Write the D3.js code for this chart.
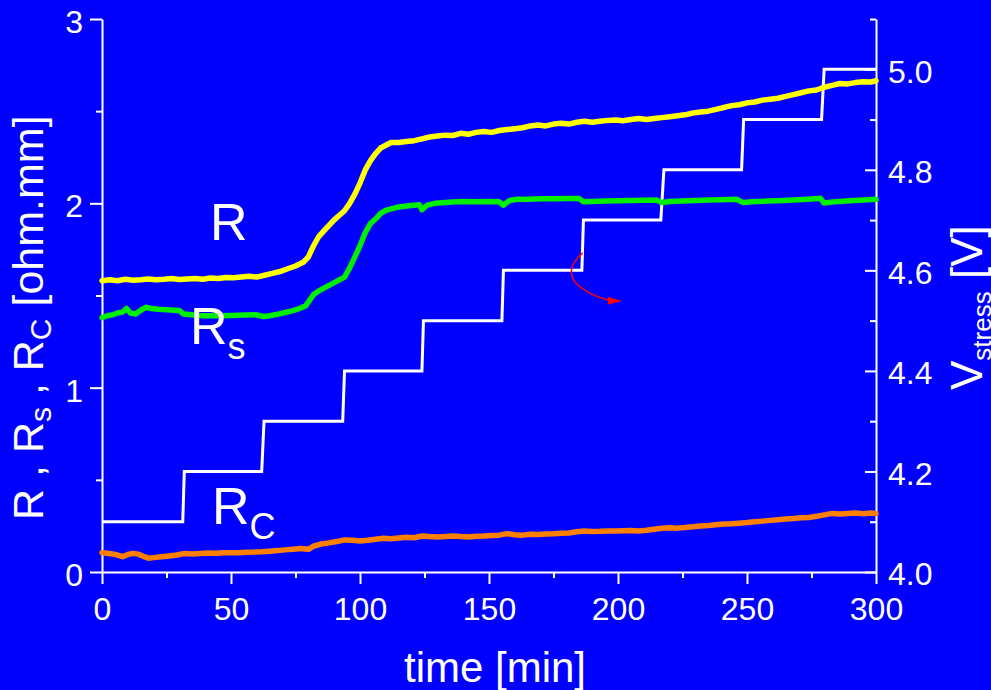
<!DOCTYPE html>
<html>
<head>
<meta charset="utf-8">
<script src="https://cdn.jsdelivr.net/npm/d3@7"></script>
<style>
  html, body { margin: 0; padding: 0; background: #0000ff; overflow: hidden; }
  text { font-family: "Liberation Sans", Arial, Helvetica, sans-serif; fill: #ffffff; }
</style>
</head>
<body>
<svg id="chart" width="991" height="690"></svg>
<script>
// ---- data -------------------------------------------------------------
const timeMajorTicks = [0, 50, 100, 150, 200, 250, 300];
const timeMinorTicks = [25, 75, 125, 175, 225, 275];
const resMajorTicks = [0, 1, 2, 3];
const resMinorTicks = [0.5, 1.5, 2.5];
const voltMajorTicks = [4.0, 4.2, 4.4, 4.6, 4.8, 5.0];
const voltMinorTicks = [4.1, 4.3, 4.5, 4.7, 4.9, 5.1];

// total resistance R [ohm.mm] vs time [min]
const seriesR = [
  [0,1.580],[3,1.585],[6,1.580],[9,1.588],[12,1.583],[15,1.586],[18,1.590],[21,1.585],
  [24,1.588],[27,1.592],[30,1.587],[33,1.590],[36,1.592],[39,1.588],[42,1.595],[45,1.592],
  [48,1.598],[51,1.596],[54,1.600],[57,1.604],[60,1.600],[63,1.610],[66,1.620],[69,1.630],
  [72,1.645],[75,1.660],[78,1.680],[80,1.710],[82,1.770],[84,1.820],[86,1.850],[88,1.880],
  [90,1.910],[92,1.935],[94,1.960],[96,2.000],[98,2.050],[100,2.110],[102,2.180],[104,2.230],
  [106,2.270],[108,2.300],[110,2.315],[112,2.330],[115,2.330],[118,2.335],[121,2.340],[124,2.350],
  [127,2.360],[130,2.365],[133,2.370],[136,2.368],[139,2.380],[142,2.375],[145,2.385],[148,2.390],
  [151,2.385],[154,2.395],[157,2.400],[160,2.405],[163,2.410],[166,2.420],[169,2.425],[172,2.420],
  [175,2.430],[178,2.435],[181,2.430],[184,2.440],[187,2.445],[190,2.440],[193,2.445],[196,2.450],
  [199,2.452],[202,2.448],[205,2.455],[208,2.460],[211,2.455],[214,2.460],[217,2.465],[220,2.470],
  [223,2.475],[226,2.480],[229,2.490],[232,2.495],[235,2.500],[238,2.510],[241,2.520],[244,2.530],
  [247,2.535],[250,2.545],[253,2.550],[256,2.560],[259,2.565],[262,2.570],[265,2.580],[268,2.590],
  [271,2.600],[274,2.610],[277,2.615],[280,2.630],[283,2.640],[286,2.650],[289,2.648],[292,2.655],
  [295,2.660],[298,2.658],[300,2.665]
];

// sheet resistance Rs
const seriesRs = [
  [0,1.380],[2,1.390],[4,1.395],[6,1.405],[8,1.410],[9.5,1.430],[11,1.405],[13,1.400],
  [15,1.420],[17,1.436],[19,1.430],[22,1.425],[25,1.423],[28,1.420],[30,1.418],[31.5,1.400],
  [34,1.397],[37,1.392],[40,1.390],[45,1.390],[50,1.392],[55,1.394],[60,1.395],[62.5,1.386],
  [65,1.390],[68,1.398],[71,1.408],[74,1.418],[77,1.432],[79,1.445],[80.5,1.475],[82,1.505],
  [84,1.525],[86,1.540],[88,1.555],[90,1.570],[92,1.585],[94,1.600],[96,1.650],[98,1.710],
  [100,1.770],[102,1.840],[104,1.890],[106,1.915],[108,1.945],[110,1.962],[112,1.970],[115,1.980],
  [118,1.985],[121,1.990],[123,1.993],[124,1.965],[126,1.990],[129,2.000],[133,2.005],[137,2.008],
  [141,2.010],[145,2.008],[150,2.010],[154,2.008],[155.5,1.990],[158,2.015],[161,2.022],[165,2.022],
  [170,2.025],[175,2.025],[180,2.026],[185,2.026],[186.5,2.009],[190,2.010],[195,2.012],[200,2.014],
  [205,2.015],[210,2.017],[215,2.018],[217,2.004],[220,2.010],[225,2.013],[230,2.016],[235,2.018],
  [240,2.020],[246,2.022],[248.5,2.004],[252,2.008],[258,2.012],[264,2.016],[270,2.020],[275,2.024],
  [278.5,2.027],[279.8,2.002],[284,2.008],[290,2.014],[295,2.018],[300,2.022]
];

// contact resistance Rc
const seriesRc = [
  [0,0.105],[2,0.102],[4,0.098],[6,0.092],[8,0.083],[10,0.095],[12,0.101],[14,0.097],
  [16,0.085],[18,0.075],[20,0.078],[23,0.083],[26,0.087],[29,0.092],[32,0.100],[35,0.098],
  [38,0.101],[41,0.103],[44,0.102],[47,0.104],[50,0.105],[53,0.104],[56,0.107],[59,0.108],
  [62,0.110],[65,0.113],[68,0.116],[71,0.120],[74,0.124],[77,0.128],[80,0.123],[82,0.140],
  [85,0.152],[88,0.158],[91,0.165],[94,0.174],[97,0.172],[100,0.168],[103,0.172],[106,0.178],
  [109,0.183],[112,0.180],[115,0.185],[118,0.188],[121,0.186],[124,0.195],[127,0.192],[130,0.190],
  [133,0.193],[136,0.195],[139,0.192],[142,0.190],[145,0.194],[148,0.195],[151,0.198],[154,0.200],
  [157,0.208],[160,0.202],[163,0.200],[166,0.205],[169,0.204],[172,0.206],[175,0.207],[178,0.210],
  [181,0.212],[184,0.218],[187,0.222],[190,0.220],[193,0.221],[196,0.223],[199,0.222],[202,0.224],
  [205,0.225],[208,0.223],[211,0.226],[214,0.232],[217,0.237],[220,0.240],[223,0.238],[226,0.242],
  [229,0.245],[232,0.250],[235,0.252],[238,0.256],[241,0.260],[244,0.262],[247,0.265],[250,0.268],
  [253,0.272],[256,0.276],[259,0.280],[262,0.284],[265,0.288],[268,0.290],[271,0.294],[274,0.296],
  [277,0.302],[280,0.310],[283,0.318],[286,0.315],[289,0.318],[292,0.320],[295,0.316],[298,0.320],
  [300,0.318]
];

// stress voltage [V], stepped every ~31 min
const seriesV = [
  [0,4.1],[31.3,4.1],[31.9,4.2],[61.9,4.2],[62.8,4.3],[93.3,4.3],[94.0,4.4],[124.0,4.4],
  [124.6,4.5],[155.0,4.5],[155.6,4.6],[186.0,4.6],[186.6,4.7],[216.6,4.7],[217.8,4.8],
  [247.9,4.8],[248.7,4.9],[278.9,4.9],[279.9,5.0],[300,5.0]
];

// curved pointer from the voltage trace towards the right-hand axis (time, volts)
const pointerPath = [[186.3,4.635],[182.2,4.607],[182.8,4.581],[187.9,4.558],[195.6,4.542],[201.0,4.539]];

// ---- layout -----------------------------------------------------------
const svg = d3.select("#chart");
const x = d3.scaleLinear().domain([0, 300]).range([102, 876]);
const yL = d3.scaleLinear().domain([0, 3]).range([572, 19]);
const yR = d3.scaleLinear().domain([4.0, 5.1]).range([572, 19]);

svg.append("rect").attr("width", 991).attr("height", 690).attr("fill", "#0000ff");

function styleAxis(g) {
  g.selectAll("path, line").attr("stroke", "#ffffff").attr("stroke-width", 2);
  g.selectAll("text").attr("fill", "#ffffff").attr("font-size", 32)
    .attr("font-family", "'Liberation Sans', Arial, sans-serif");
}

// x axis: minor then major ticks (pointing down)
svg.append("g").attr("transform", "translate(0,572)")
  .call(d3.axisBottom(x).tickValues(timeMinorTicks).tickSize(6).tickFormat(""))
  .call(g => g.select(".domain").remove())
  .call(styleAxis);
svg.append("g").attr("transform", "translate(0,572)")
  .call(d3.axisBottom(x).tickValues(timeMajorTicks).tickSize(12).tickSizeOuter(0)
        .tickPadding(13).tickFormat(d3.format("d")))
  .call(styleAxis);

// left axis (outward ticks)
svg.append("g").attr("transform", "translate(102,0)")
  .call(d3.axisLeft(yL).tickValues(resMinorTicks).tickSize(6).tickFormat(""))
  .call(g => g.select(".domain").remove())
  .call(styleAxis);
svg.append("g").attr("transform", "translate(102,0)")
  .call(d3.axisLeft(yL).tickValues(resMajorTicks).tickSize(12).tickSizeOuter(0)
        .tickPadding(7).tickFormat(d3.format("d")))
  .call(styleAxis)
  .call(g => g.selectAll("text").attr("dy", "0.42em"));

// right axis (inward ticks)
svg.append("g").attr("transform", "translate(876,0)")
  .call(d3.axisRight(yR).tickValues(voltMinorTicks).tickSize(-6).tickFormat(""))
  .call(g => g.select(".domain").remove())
  .call(styleAxis);
svg.append("g").attr("transform", "translate(876,0)")
  .call(d3.axisRight(yR).tickValues(voltMajorTicks).tickSize(-11).tickSizeOuter(0)
        .tickPadding(12).tickFormat(d3.format(".1f")))
  .call(styleAxis)
  .call(g => g.selectAll("text").attr("dy", "0.4em"));

// ---- series -------------------------------------------------------------
const lineL = d3.line().x(d => x(d[0])).y(d => yL(d[1]));
const lineR = d3.line().x(d => x(d[0])).y(d => yR(d[1]));

svg.append("path").datum(seriesV).attr("d", lineR)
  .attr("fill", "none").attr("stroke", "#ffffff").attr("stroke-width", 3);

[[seriesRc, "#ff8000"], [seriesRs, "#00ee00"], [seriesR, "#ffff00"]].forEach(([data, color]) => {
  svg.append("path").datum(data).attr("d", lineL)
    .attr("fill", "none").attr("stroke", color).attr("stroke-width", 5.5)
    .attr("stroke-linejoin", "round").attr("stroke-linecap", "round");
});

// pointer arrow
const defs = svg.append("defs");
defs.append("marker").attr("id", "arrowhead")
  .attr("viewBox", "0 0 14 8").attr("refX", 13).attr("refY", 4)
  .attr("markerWidth", 14).attr("markerHeight", 8)
  .attr("markerUnits", "userSpaceOnUse").attr("orient", "auto")
  .append("path").attr("d", "M0,0 L14,4 L0,8 Z").attr("fill", "#ff0000");
svg.append("path").datum(pointerPath)
  .attr("d", d3.line().x(d => x(d[0])).y(d => yR(d[1])).curve(d3.curveCatmullRom))
  .attr("fill", "none").attr("stroke", "#ff0000").attr("stroke-width", 1.5)
  .attr("marker-end", "url(#arrowhead)");

// ---- in-plot labels ------------------------------------------------------
function label(t, r, main, sub) {
  const tx = svg.append("text").attr("x", x(t)).attr("y", yL(r)).attr("font-size", 52);
  tx.append("tspan").text(main);
  if (sub) tx.append("tspan").attr("font-size", 36).attr("dy", 15).text(sub);
}
label(41.9, 1.80, "R");
label(34.1, 1.235, "R", "s");
label(42.6, 0.26, "R", "C");

// ---- axis titles -----------------------------------------------------------
svg.append("text").attr("x", 495).attr("y", 682).attr("text-anchor", "middle")
  .attr("font-size", 42).text("time [min]");

const yt = svg.append("text").attr("transform", "translate(43,520) rotate(-90)")
  .attr("font-size", 43);
yt.append("tspan").text("R , R");
yt.append("tspan").attr("font-size", 30).attr("dy", 8).text("s");
yt.append("tspan").attr("dy", -8).text(" , R");
yt.append("tspan").attr("font-size", 30).attr("dy", 8).text("C");
yt.append("tspan").attr("dy", -8).text(" [ohm.mm]");

const vt = svg.append("text").attr("transform", "translate(982,390) rotate(-90)")
  .attr("font-size", 44);
vt.append("tspan").text("V");
vt.append("tspan").attr("font-size", 26).attr("dy", 9).text("stress");
vt.append("tspan").attr("dy", -9).text(" [V]");
</script>
</body>
</html>
